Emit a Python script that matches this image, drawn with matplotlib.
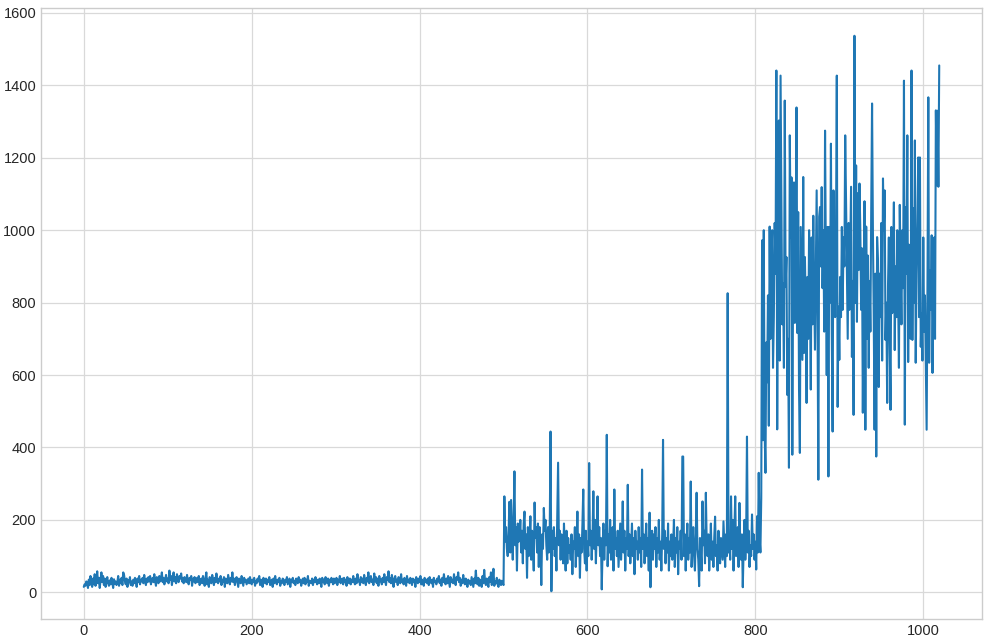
import numpy as np
import matplotlib
matplotlib.use("Agg")
import matplotlib.pyplot as plt

# Values, in three stretches
low_values = [
    15, 22, 18, 30, 25, 12, 35, 20, 45, 28, 15, 38, 22, 50, 18, 30, 58, 25, 40, 12,
    35, 55, 28, 45, 20, 38, 15, 30, 42, 25, 18, 33, 22, 40, 28, 12, 36, 24, 30, 20,
    28, 45, 18, 35, 25, 40, 20, 55, 48, 30, 22, 38, 15, 33, 27, 42, 20, 30, 18, 35,
    25, 40, 30, 15, 38, 28, 45, 22, 35, 30, 40, 25, 48, 32, 20, 38, 28, 42, 30, 45,
    22, 35, 40, 28, 50, 30, 18, 42, 35, 25, 45, 30, 38, 55, 28, 40, 22, 35, 48, 30,
    38, 25, 60, 35, 45, 20, 40, 55, 30, 42, 25, 50, 35, 28, 45, 38, 52, 30, 40, 25,
    42, 35, 28, 48, 30, 22, 40, 35, 45, 18, 38, 30, 42, 25, 35, 40, 28, 45, 20, 32,
    38, 25, 45, 30, 18, 40, 55, 22, 35, 15, 42, 30, 25, 48, 35, 20, 40, 28, 52, 30,
    25, 38, 30, 45, 20, 35, 28, 42, 15, 38, 30, 25, 48, 35, 22, 40, 30, 55, 28, 38,
    20, 35, 42, 28, 15, 38, 30, 25, 45, 32, 18, 40, 28, 35, 22, 30, 38, 25, 42, 30,
    22, 35, 28, 40, 18, 32, 25, 38, 30, 45, 20, 35, 28, 15, 40, 30, 25, 38, 22, 35,
    28, 42, 20, 30, 35, 15, 38, 25, 45, 30, 22, 35, 28, 40, 18, 32, 25, 38, 30, 20,
    35, 28, 42, 22, 30, 38, 15, 35, 28, 40, 25, 32, 20, 38, 30, 25, 42, 28, 35, 18,
    30, 38, 25, 40, 22, 35, 28, 45, 18, 32, 30, 25, 38, 20, 35, 28, 42, 30, 22, 35,
    25, 38, 30, 15, 40, 28, 35, 22, 42, 30, 25, 38, 18, 35, 28, 40, 30, 22, 38, 25,
    32, 40, 20, 35, 28, 45, 25, 30, 38, 22, 40, 28, 35, 18, 42, 30, 25, 38, 22, 35,
    28, 45, 30, 22, 38, 25, 50, 30, 35, 20, 42, 28, 38, 25, 48, 32, 20, 40, 30, 55,
    25, 38, 45, 28, 35, 20, 52, 30, 42, 25, 38, 18, 45, 30, 35, 22, 40, 28, 50, 32,
    20, 42, 35, 58, 28, 40, 25, 48, 30, 15, 38, 45, 28, 35, 20, 42, 30, 25, 50, 28,
    35, 22, 40, 30, 18, 45, 28, 35, 25, 40, 30, 20, 38, 28, 35, 15, 42, 30, 25, 38,
    28, 45, 22, 35, 30, 18, 40, 28, 35, 25, 38, 20, 42, 30, 25, 35, 15, 40, 28, 32,
    22, 38, 30, 45, 25, 35, 18, 40, 28, 50, 30, 22, 38, 25, 45, 30, 15, 42, 28, 35,
    25, 50, 30, 20, 42, 35, 55, 28, 40, 18, 35, 25, 48, 30, 22, 38, 28, 15, 35, 25,
    30, 20, 42, 28, 15, 38, 25, 60, 30, 22, 40, 18, 35, 28, 15, 45, 25, 62, 30, 20,
    38, 25, 15, 42, 28, 55, 20, 35, 65, 18, 30, 25, 40, 22, 15, 35, 28, 20, 32, 25,
]

mid_values = [
    20, 265, 140, 180, 120, 100, 160, 250, 110, 255,
    170, 90, 200, 334, 130, 180, 60, 190, 140, 150,
    200, 110, 170, 80, 190, 223, 120, 160, 40, 180,
    100, 150, 210, 90, 170, 130, 60, 248, 150, 180,
    110, 190, 70, 180, 140, 20, 160, 120, 233, 170,
    200, 130, 90, 180, 110, 160, 444, 3, 170, 120,
    180, 100, 150, 60, 200, 358, 130, 170, 90, 160,
    140, 80, 190, 120, 60, 170, 80, 150, 110, 130,
    90, 160, 50, 140, 120, 180, 70, 130, 223, 100,
    160, 40, 150, 110, 190, 284, 120, 80, 170, 60,
    140, 100, 357, 130, 170, 90, 150, 279, 120, 200,
    80, 160, 265, 130, 180, 100, 150, 8, 120, 190,
    90, 170, 130, 435, 72, 160, 110, 200, 90, 140,
    180, 60, 284, 120, 150, 100, 170, 70, 130, 190,
    90, 140, 251, 110, 170, 60, 150, 120, 297, 100,
    160, 80, 130, 190, 100, 150, 50, 170, 120, 140,
    90, 180, 110, 150, 70, 339, 120, 160, 80, 140,
    190, 100, 150, 60, 220, 14, 130, 170, 90, 160,
    120, 180, 70, 150, 110, 200, 90, 140, 60, 160,
    421, 120, 170, 80, 150, 110, 190, 60, 140, 100,
    160, 90, 130, 200, 70, 150, 110, 180, 50, 140,
    120, 170, 90, 375, 375, 100, 160, 60, 140, 190,
    90, 150, 110, 306, 70, 130, 180, 100, 60, 160,
    275, 120, 90, 17, 150, 110, 60, 251, 130, 170,
    80, 275, 140, 100, 160, 60, 120, 190, 90, 140,
    70, 150, 209, 100, 130, 60, 170, 110, 80, 150,
    120, 90, 196, 130, 70, 160, 100, 826, 110, 150,
    90, 265, 120, 200, 60, 170, 265, 100, 140, 180,
    70, 247, 130, 90, 160, 14, 120, 200, 90, 150,
    430, 110, 170, 70, 130, 100, 215, 120, 160, 90,
    140, 63, 210, 110, 330, 150, 110, 260,
]

high_values = [
    972, 420, 1000, 450, 330, 690, 580, 820, 460, 1010,
    700, 900, 1000, 620, 760, 1020, 880, 1441, 450, 980,
    1303, 640, 1427, 1074, 740, 854, 620, 1358, 843, 926,
    545, 700, 344, 1262, 980, 1146, 380, 900, 1132, 744,
    960, 1339, 716, 1050, 560, 385, 1009, 820, 642, 1147,
    661, 926, 780, 523, 871, 700, 1000, 820, 560, 980,
    740, 1040, 830, 670, 900, 1110, 760, 311, 1037, 1064,
    900, 1119, 840, 1000, 720, 1275, 898, 600, 1009, 320,
    1009, 800, 1239, 716, 444, 1110, 900, 760, 980, 1427,
    512, 789, 642, 871, 760, 1009, 780, 980, 900, 1262,
    1083, 880, 700, 1020, 780, 940, 1120, 650, 860, 490,
    1537, 799, 1179, 747, 1102, 890, 1129, 1000, 780, 950,
    496, 843, 1080, 449, 1010, 700, 930, 620, 860, 720,
    1060, 1350, 1000, 760, 449, 880, 375, 981, 917, 567,
    880, 760, 1020, 640, 1143, 1000, 1110, 697, 800, 523,
    848, 980, 700, 504, 1009, 771, 900, 1077, 669, 900,
    760, 1000, 830, 620, 1070, 880, 740, 1000, 840, 1413,
    463, 1064, 880, 1262, 636, 960, 830, 700, 1441, 697,
    1061, 800, 1248, 634, 881, 1020, 1201, 760, 1201, 678,
    771, 640, 980, 720, 820, 640, 449, 848, 1367, 634,
    890, 780, 986, 606, 840, 980, 700, 1331, 1124, 1330,
    1120, 1455,
]

values = np.array(low_values + mid_values + high_values)
steps = np.arange(len(values))

plt.style.use("seaborn-v0_8-whitegrid")
plt.rcParams["font.family"] = ["Liberation Sans", "DejaVu Sans"]

fig = plt.figure(figsize=(9.88, 6.44), dpi=100)
ax = fig.add_axes([41 / 988, 25 / 644, 941 / 988, 611 / 644])
ax.plot(steps, values, color="#1f77b4", linewidth=1.5)

ax.tick_params(labelsize=10.5, colors="#262626")
for spine in ax.spines.values():
    spine.set_visible(True)
    spine.set_color("#cccccc")
    spine.set_linewidth(1.0)
ax.grid(True, color="#d9d9d9", linewidth=0.9)

fig.savefig("out.png", dpi=100)
